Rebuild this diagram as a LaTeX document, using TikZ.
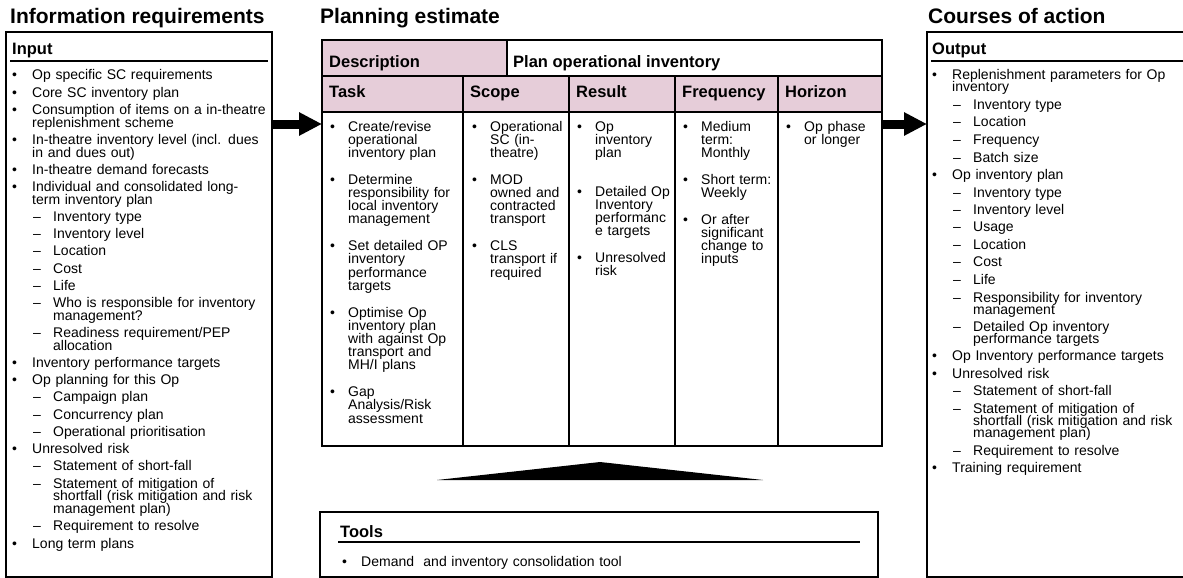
\documentclass[tikz,border=0pt]{standalone}
\usepackage{fontspec}
\setmainfont{Liberation Sans}
\usetikzlibrary{arrows.meta,positioning}
\definecolor{PEpink}{HTML}{E6CDD9}
% list lines: bullet entry and dash sub-entry, both with hanging indent
\newcommand{\blt}[2][20pt]{\hangindent=#1\hangafter=1\noindent\makebox[#1][l]{\textbullet}#2\par}
\newcommand{\dsh}[1]{\hangindent=41pt\hangafter=1\noindent\hspace*{21pt}\makebox[20pt][l]{–}#1\par}
\tikzset{
  pe/title/.style={anchor=base west, inner sep=0pt, font=\fontsize{21}{24}\selectfont\bfseries},
  pe/head/.style={anchor=base west, inner sep=0pt, font=\fontsize{16.5}{19}\selectfont\bfseries},
  pe/panel/.style={draw, line width=2pt, anchor=north west, outer sep=0pt, inner sep=0pt},
  pe/cell/.style={draw, line width=2pt, anchor=north west, outer sep=0pt, inner sep=0pt},
  pe/rule/.style={line width=1.5pt},
  pe/list/.style n args={3}{anchor=base west, inner sep=0pt, text width=#1, align=left,
    font=\fontsize{14}{#2}\selectfont,
    execute at begin node={\setlength{\parskip}{#3}\setlength{\lineskiplimit}{-20pt}}},
  pe/bigarrow/.style={line width=9pt, -{Triangle[length=23pt, width=22pt]}}
}
\begin{document}
\begin{tikzpicture}[x=1pt, y=-1pt]
\useasboundingbox (0,0) rectangle (1183,578);
\coordinate (arry) at (0,124);

% information requirements
\node[pe/title] (inftitle) at (10,24) {Information requirements};
\node[pe/panel, minimum width=266pt, minimum height=545pt] (inbox) at (6,32) {};
\node[pe/head] (inhead) at (12,55) {Input};
\draw[pe/rule] (10,61) -- (268,61);
\node[pe/list={300pt}{12.8}{4.4pt}] (inlist) at (12,80) {%
\blt{Op specific SC requirements}
\blt{Core SC inventory plan}
\blt{Consumption of items on a in-theatre\newline replenishment scheme}
\blt{In-theatre inventory level (incl. dues\newline in and dues out)}
\blt{In-theatre demand forecasts}
\blt{Individual and consolidated long-\newline term inventory plan}
\dsh{Inventory type}
\dsh{Inventory level}
\dsh{Location}
\dsh{Cost}
\dsh{Life}
\dsh{Who is responsible for inventory\newline management?}
\dsh{Readiness requirement/PEP\newline allocation}
\blt{Inventory performance targets}
\blt{Op planning for this Op}
\dsh{Campaign plan}
\dsh{Concurrency plan}
\dsh{Operational prioritisation}
\blt{Unresolved risk}
\dsh{Statement of short-fall}
\dsh{Statement of mitigation of\newline shortfall (risk mitigation and risk\newline management plan)}
\dsh{Requirement to resolve}
\blt{Long term plans}};

% planning estimate table
\node[pe/title] (pltitle) at (320,24) {Planning estimate};
\node[pe/cell, fill=PEpink, minimum width=185pt, minimum height=36pt] (deschd) at (322,40) {};
\node[pe/head] (desclbl) at ([xshift=7pt, yshift=-27pt]deschd.north west) {Description};
\node[pe/cell, minimum width=375pt, minimum height=36pt] (planhd) at (507,40) {};
\node[pe/head] (planlbl) at ([xshift=6pt, yshift=-27pt]planhd.north west) {Plan operational inventory};
\foreach \cname/\lbl/\xa/\cw in {task/Task/322/141, scope/Scope/463/106, result/Result/569/106,
    freq/Frequency/675/103, horizon/Horizon/778/104}{
  \node[pe/cell, fill=PEpink, minimum width=\cw pt, minimum height=36pt] (\cname-hd) at (\xa,76) {};
  \node[pe/head] (\cname-lbl) at ([xshift=7pt, yshift=-21pt]\cname-hd.north west) {\lbl};
  \node[pe/cell, minimum width=\cw pt, minimum height=334pt] (\cname-bd) at (\xa,112) {};
}
\node[pe/list={140pt}{13.2}{13.6pt}] (tasktxt) at ([xshift=8pt, yshift=-19pt]task-bd.north west) {%
\blt[18pt]{Create/revise\newline operational\newline inventory plan}
\blt[18pt]{Determine\newline responsibility for\newline local inventory\newline management}
\blt[18pt]{Set detailed OP\newline inventory\newline performance\newline targets}
\blt[18pt]{Optimise Op\newline inventory plan\newline with against Op\newline transport and\newline MH/I plans}
\blt[18pt]{Gap\newline Analysis/Risk\newline assessment}};
\node[pe/list={120pt}{13.2}{13.6pt}] (scopetxt) at ([xshift=9pt, yshift=-19pt]scope-bd.north west) {%
\blt[18pt]{Operational\newline SC (in-\newline theatre)}
\blt[18pt]{MOD\newline owned and\newline contracted\newline transport}
\blt[18pt]{CLS\newline transport if\newline required}};
\node[pe/list={120pt}{13.2}{13.6pt}] (resulttxt) at ([xshift=8pt, yshift=-19pt]result-bd.north west) {%
\blt[18pt]{Op\newline inventory\newline plan}
\vspace{12pt}
\blt[18pt]{Detailed Op\newline Inventory\newline performanc\newline e targets}
\blt[18pt]{Unresolved\newline risk}};
\node[pe/list={120pt}{13.2}{13.6pt}] (freqtxt) at ([xshift=8pt, yshift=-19pt]freq-bd.north west) {%
\blt[18pt]{Medium\newline term:\newline Monthly}
\blt[18pt]{Short term:\newline Weekly}
\blt[18pt]{Or after\newline significant\newline change to\newline inputs}};
\node[pe/list={120pt}{13.2}{13.6pt}] (horizontxt) at ([xshift=8pt, yshift=-19pt]horizon-bd.north west) {%
\blt[18pt]{Op phase\newline or longer}};

% tools
\fill (437,480) -- (600,462) -- (763,480) -- cycle;
\node[pe/panel, minimum width=558pt, minimum height=65pt] (toolbox) at (320,512) {};
\node[pe/head] (toolhead) at (340,537) {Tools};
\draw[pe/rule] (338,542) -- (860,542);
\node[pe/list={400pt}{13.2}{0pt}] (toollist) at (342,566) {%
\blt[19pt]{Demand\ \ and inventory consolidation tool}};

% courses of action
\node[pe/title] (coatitle) at (928,24) {Courses of action};
\node[pe/panel, minimum width=270pt, minimum height=545pt] (outbox) at (927,32) {};
\node[pe/head] (outhead) at (932,55) {Output};
\draw[pe/rule] (931,61) -- (1183,61);
\node[pe/list={300pt}{12}{5.5pt}] (outlist) at (932,80) {%
\blt{Replenishment parameters for Op\newline inventory}
\dsh{Inventory type}
\dsh{Location}
\dsh{Frequency}
\dsh{Batch size}
\blt{Op inventory plan}
\dsh{Inventory type}
\dsh{Inventory level}
\dsh{Usage}
\dsh{Location}
\dsh{Cost}
\dsh{Life}
\dsh{Responsibility for inventory\newline management}
\dsh{Detailed Op inventory\newline performance targets}
\blt{Op Inventory performance targets}
\blt{Unresolved risk}
\dsh{Statement of short-fall}
\dsh{Statement of mitigation of\newline shortfall (risk mitigation and risk\newline management plan)}
\dsh{Requirement to resolve}
\blt{Training requirement}};

% flow arrows
\draw[pe/bigarrow] (inbox.east |- arry) -- (task-bd.west |- arry);
\draw[pe/bigarrow] (horizon-bd.east |- arry) -- (outbox.west |- arry);
\end{tikzpicture}
\end{document}
